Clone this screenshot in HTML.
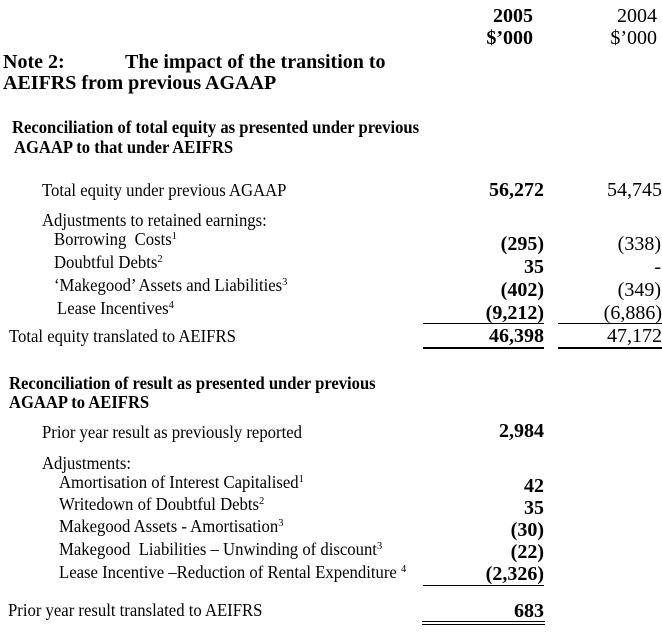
<!DOCTYPE html>
<html>
<head>
<meta charset="utf-8">
<style>
  html, body { margin: 0; padding: 0; background: #fff; }
  body { width: 662px; height: 632px; overflow: hidden; }
  svg { display: block; }
  text { font-family: "Liberation Serif", "Times New Roman", serif; fill: #000; white-space: pre; }
  .t { font-size: 20px; font-weight: bold; }
  .h { font-size: 17.4px; font-weight: bold; }
  .r { font-size: 17.5px; }
  .n { font-size: 20px; font-weight: bold; text-anchor: end; }
  .m { font-size: 20px; text-anchor: end; }
  .s { font-size: 11px; }
</style>
</head>
<body>
<svg width="662" height="632" viewBox="0 0 662 632" xmlns="http://www.w3.org/2000/svg">
  <!-- column headers -->
  <text class="n" x="533" y="22">2005</text>
  <text class="n" x="533" y="44">$’000</text>
  <text class="m" x="657" y="22">2004</text>
  <text class="m" x="657" y="44">$’000</text>

  <!-- title -->
  <text class="t" x="3" y="68">Note 2:</text>
  <text class="t" x="125" y="68">The impact of the transition to</text>
  <text class="t" x="3" y="89">AEIFRS from previous AGAAP</text>

  <!-- section 1 heading -->
  <text class="h" transform="translate(12,133) scale(0.954,1)">Reconciliation of total equity as presented under previous</text>
  <text class="h" transform="translate(14,153) scale(0.954,1)">AGAAP to that under AEIFRS</text>

  <!-- section 1 rows -->
  <text class="r" transform="translate(42,196) scale(0.954,1)">Total equity under previous AGAAP</text>
  <text class="n" x="544" y="196">56,272</text>
  <text class="m" x="662" y="196">54,745</text>

  <text class="r" transform="translate(42,226) scale(0.954,1)">Adjustments to retained earnings:</text>

  <text class="r" transform="translate(54,245) scale(0.954,1)">Borrowing  Costs<tspan class="s" dy="-6">1</tspan></text>
  <text class="n" x="544" y="250">(295)</text>
  <text class="m" x="661" y="250">(338)</text>

  <text class="r" transform="translate(54,268) scale(0.954,1)">Doubtful Debts<tspan class="s" dy="-6">2</tspan></text>
  <text class="n" x="544" y="273">35</text>
  <text class="m" x="661" y="273">-</text>

  <text class="r" transform="translate(54,291) scale(0.954,1)">‘Makegood’ Assets and Liabilities<tspan class="s" dy="-6">3</tspan></text>
  <text class="n" x="544" y="296">(402)</text>
  <text class="m" x="661" y="296">(349)</text>

  <text class="r" transform="translate(57,314) scale(0.954,1)">Lease Incentives<tspan class="s" dy="-6">4</tspan></text>
  <text class="n" x="544" y="319">(9,212)</text>
  <text class="m" x="662" y="319">(6,886)</text>

  <rect x="423" y="323" width="121" height="1" fill="#000"/>
  <rect x="558" y="323" width="104" height="1" fill="#000"/>

  <text class="r" transform="translate(9,342) scale(0.954,1)">Total equity translated to AEIFRS</text>
  <text class="n" x="544" y="342">46,398</text>
  <text class="m" x="662" y="342">47,172</text>

  <rect x="423" y="347" width="121" height="2" fill="#000"/>
  <rect x="558" y="347" width="104" height="2" fill="#000"/>

  <!-- section 2 heading -->
  <text class="h" transform="translate(9,389) scale(0.954,1)">Reconciliation of result as presented under previous</text>
  <text class="h" transform="translate(9,408) scale(0.954,1)">AGAAP to AEIFRS</text>

  <!-- section 2 rows -->
  <text class="r" transform="translate(42,438) scale(0.954,1)">Prior year result as previously reported</text>
  <text class="n" x="544" y="437">2,984</text>

  <text class="r" transform="translate(42,469) scale(0.954,1)">Adjustments:</text>

  <text class="r" transform="translate(59,488) scale(0.954,1)">Amortisation of Interest Capitalised<tspan class="s" dy="-6">1</tspan></text>
  <text class="n" x="544" y="492">42</text>

  <text class="r" transform="translate(59,510) scale(0.954,1)">Writedown of Doubtful Debts<tspan class="s" dy="-6">2</tspan></text>
  <text class="n" x="544" y="514">35</text>

  <text class="r" transform="translate(59,532) scale(0.954,1)">Makegood Assets - Amortisation<tspan class="s" dy="-6">3</tspan></text>
  <text class="n" x="544" y="536">(30)</text>

  <text class="r" transform="translate(59,555) scale(0.954,1)">Makegood  Liabilities – Unwinding of discount<tspan class="s" dy="-6">3</tspan></text>
  <text class="n" x="544" y="558">(22)</text>

  <text class="r" transform="translate(59,578) scale(0.954,1)">Lease Incentive –Reduction of Rental Expenditure <tspan class="s" dy="-6">4</tspan></text>
  <text class="n" x="544" y="580">(2,326)</text>

  <rect x="423" y="585" width="121" height="1" fill="#000"/>

  <text class="r" transform="translate(8,616) scale(0.954,1)">Prior year result translated to AEIFRS</text>
  <text class="n" x="544" y="617">683</text>

  <rect x="422" y="621" width="123" height="1" fill="#000"/>
  <rect x="422" y="624" width="123" height="1" fill="#000"/>
</svg>
</body>
</html>
